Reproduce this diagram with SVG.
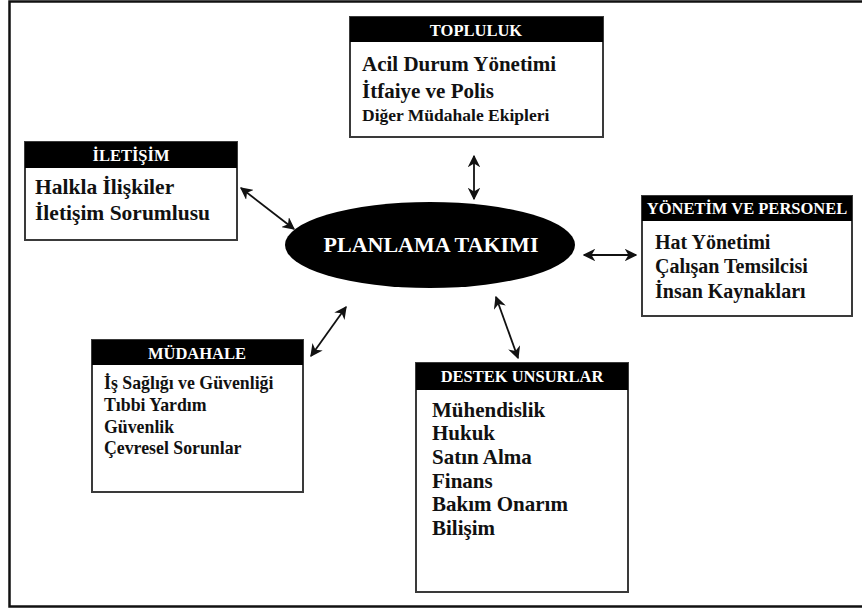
<svg xmlns="http://www.w3.org/2000/svg" width="862" height="609" viewBox="0 0 862 609">
  <style>
    text { font-family: 'Liberation Serif', 'Times New Roman', Tinos, 'DejaVu Serif', 'Noto Serif', serif; font-weight: bold; }
    .box { fill: #fff; stroke: #3a3a3a; stroke-width: 2; }
    .hdr { fill: #000; }
    .ht { fill: #fff; font-size: 16.5px; text-anchor: middle; }
    .bt { fill: #111; }
    .con { stroke: #111; stroke-width: 1.8; fill: none; marker-start: url(#ah); marker-end: url(#ah); }
  </style>
  <defs>
    <marker id="ah" viewBox="0 0 10 10" refX="9" refY="5" markerWidth="7" markerHeight="7" orient="auto-start-reverse" markerUnits="strokeWidth">
      <path d="M0,0 L10,5 L0,10 L3,5 z" fill="#111"/>
    </marker>
  </defs>

  <rect x="0" y="0" width="862" height="609" fill="#fff"/>
  <!-- outer frame -->
  <rect x="9.5" y="1.5" width="860" height="605" fill="none" stroke="#111" stroke-width="2.5"/>

  <g id="connectors">
    <line class="con" x1="241" y1="188" x2="294" y2="229"/>
    <line class="con" x1="474" y1="156" x2="474" y2="199"/>
    <line class="con" x1="584" y1="255" x2="636" y2="255"/>
    <line class="con" x1="346" y1="307" x2="311" y2="356"/>
    <line class="con" x1="496" y1="297" x2="518" y2="358"/>
  </g>

  <g id="planlama">
    <ellipse cx="430" cy="245" rx="145" ry="43" fill="#000"/>
    <text x="431" y="252" fill="#fff" font-size="22" text-anchor="middle">PLANLAMA TAKIMI</text>
  </g>

  <g id="topluluk">
    <rect class="box" x="350" y="17" width="253" height="120"/>
    <rect class="hdr" x="350" y="17" width="253" height="25"/>
    <text class="ht" x="476" y="36" font-size="18">TOPLULUK</text>
    <text class="bt" x="362" y="71" font-size="21">Acil Durum Yönetimi</text>
    <text class="bt" x="362" y="98" font-size="21">İtfaiye ve Polis</text>
    <text class="bt" x="362" y="121" font-size="17.5">Diğer Müdahale Ekipleri</text>
  </g>

  <g id="iletisim">
    <rect class="box" x="25" y="142" width="212" height="98"/>
    <rect class="hdr" x="25" y="142" width="212" height="26"/>
    <text class="ht" x="131" y="161" font-size="18">İLETİŞİM</text>
    <text class="bt" x="35" y="194" font-size="21.5">Halkla İlişkiler</text>
    <text class="bt" x="35" y="220" font-size="21.5">İletişim Sorumlusu</text>
  </g>

  <g id="yonetim">
    <rect class="box" x="642" y="196" width="210" height="120"/>
    <rect class="hdr" x="642" y="196" width="210" height="25"/>
    <text class="ht" x="747" y="214">YÖNETİM VE PERSONEL</text>
    <text class="bt" x="655" y="249" font-size="20">Hat Yönetimi</text>
    <text class="bt" x="655" y="273" font-size="20">Çalışan Temsilcisi</text>
    <text class="bt" x="655" y="298" font-size="20">İnsan Kaynakları</text>
  </g>

  <g id="mudahale">
    <rect class="box" x="92" y="340" width="211" height="152"/>
    <rect class="hdr" x="92" y="340" width="211" height="25"/>
    <text class="ht" x="197" y="359" font-size="17">MÜDAHALE</text>
    <text class="bt" x="104" y="389" font-size="17.8">İş Sağlığı ve Güvenliği</text>
    <text class="bt" x="104" y="411" font-size="17.8">Tıbbi Yardım</text>
    <text class="bt" x="104" y="433" font-size="17.8">Güvenlik</text>
    <text class="bt" x="104" y="454" font-size="17.8">Çevresel Sorunlar</text>
  </g>

  <g id="destek">
    <rect class="box" x="416" y="363" width="212" height="229"/>
    <rect class="hdr" x="416" y="363" width="212" height="27"/>
    <text class="ht" x="522" y="382">DESTEK UNSURLAR</text>
    <text class="bt" x="432" y="417" font-size="21">Mühendislik</text>
    <text class="bt" x="432" y="440" font-size="21">Hukuk</text>
    <text class="bt" x="432" y="464" font-size="21">Satın Alma</text>
    <text class="bt" x="432" y="488" font-size="21">Finans</text>
    <text class="bt" x="432" y="511" font-size="21">Bakım Onarım</text>
    <text class="bt" x="432" y="535" font-size="21">Bilişim</text>
  </g>
</svg>
